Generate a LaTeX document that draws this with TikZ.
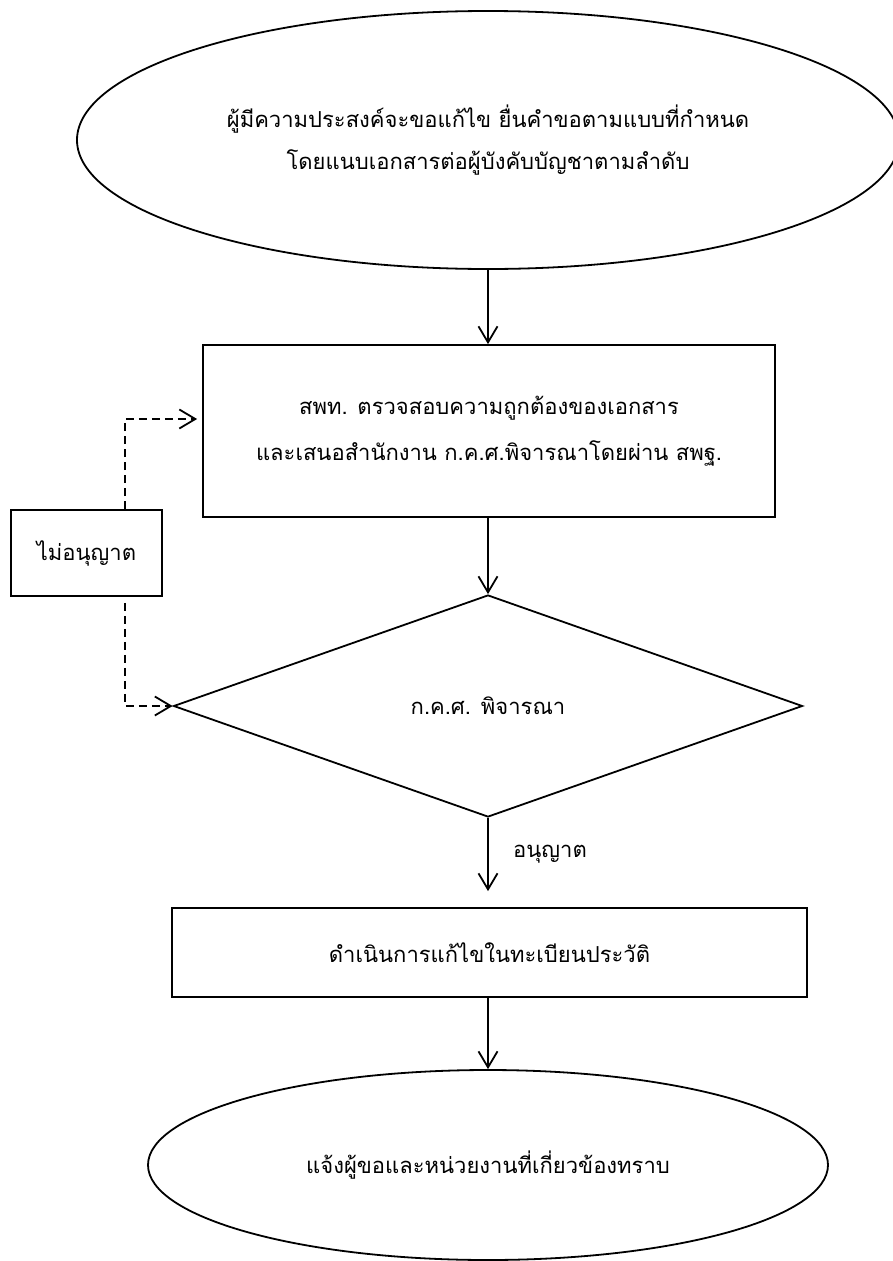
\documentclass[tikz,border=0pt]{standalone}
\usepackage{fontspec}
\newfontfamily\thaifont[Script=Thai]{Loma}
\usetikzlibrary{shapes.geometric,arrows.meta,calc}
\begin{document}
\begin{tikzpicture}[x=1pt,y=-1pt,
  every node/.style={font=\thaifont\fontsize{22}{42}\selectfont, align=center, inner sep=0pt},
  shp/.style={draw, line width=1.8pt},
  arr/.style={-{Straight Barb[length=16pt,width=19pt,line width=1.8pt]}, line width=1.8pt},
  dsh/.style={arr, dash pattern=on 8pt off 5pt}]
\useasboundingbox (0,0) rectangle (893,1261);
\node[shp, ellipse, minimum width=822pt, minimum height=258pt] (e1) at (488,140)
  {ผู้มีความประสงค์จะขอแก้ไข ยื่นคำขอตามแบบที่กำหนด\\โดยแนบเอกสารต่อผู้บังคับบัญชาตามลำดับ};
\node[shp, rectangle, minimum width=572pt, minimum height=172pt] (b1) at (489,431)
  {สพท. ตรวจสอบความถูกต้องของเอกสาร\\[4pt]และเสนอสำนักงาน ก.ค.ศ.พิจารณาโดยผ่าน สพฐ.};
\node[shp, diamond, aspect=2.83, minimum width=629pt, minimum height=222pt] (d) at (488,706)
  {ก.ค.ศ. พิจารณา};
\node[shp, rectangle, minimum width=635pt, minimum height=89pt] (b2) at (489.5,952.5)
  {ดำเนินการแก้ไขในทะเบียนประวัติ};
\node[shp, ellipse, minimum width=680pt, minimum height=190pt] (e2) at (488,1165)
  {แจ้งผู้ขอและหน่วยงานที่เกี่ยวข้องทราบ};
\node[shp, rectangle, minimum width=151pt, minimum height=86pt] (nb) at (86.5,553)
  {ไม่อนุญาต};
\draw[arr] (e1.south) -- (e1.south |- b1.north);
\draw[arr] (b1.south -| d.north) -- (d.north);
\draw[arr] (d.south) -- ([yshift=16pt]d.south |- b2.north) coordinate (a3);
\node[anchor=west] (lab) at ([xshift=25pt]$(d.south)!0.5!(a3)$) {อนุญาต};
\draw[arr] (b2.south -| e2.north) -- (e2.north);
\draw[dsh] ([xshift=38.5pt]nb.north) |- ([yshift=12pt,xshift=-5pt]b1.west);
\draw[dsh] ([xshift=38.5pt,yshift=-6pt]nb.south) |- (d.west);
\end{tikzpicture}
\end{document}
